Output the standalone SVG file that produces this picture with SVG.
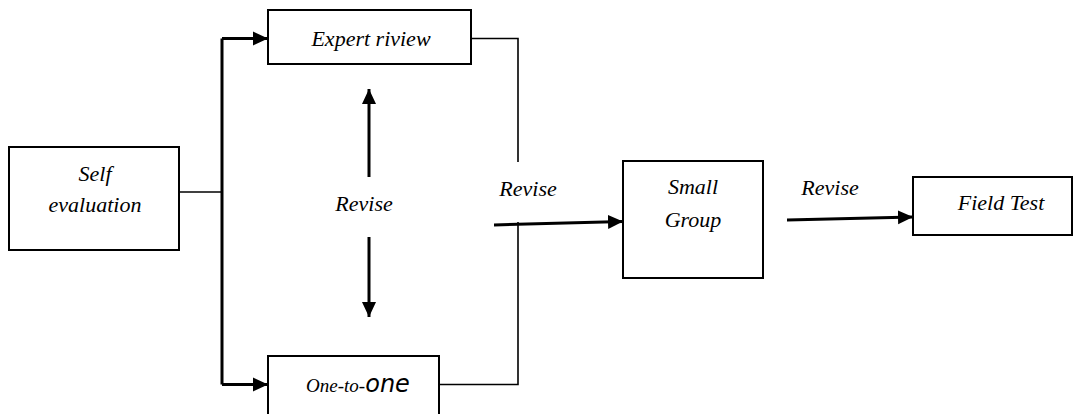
<svg xmlns="http://www.w3.org/2000/svg" width="1073" height="414" viewBox="0 0 1073 414">
<style>
.box{fill:#fff;stroke:#000;stroke-width:2}
.t{font-family:'Liberation Serif','Times New Roman',serif;font-style:italic;font-size:22px;fill:#000;text-anchor:middle}
.c{fill:none;stroke:#000}
.thick{stroke-width:3}
.thin{stroke-width:1.6}
</style>
<defs>
<marker id="ah" markerWidth="16" markerHeight="16" viewBox="0 0 16 16" refX="15" refY="8" orient="auto" markerUnits="userSpaceOnUse">
<path d="M0,1 L15,8 L0,15 Z" fill="#000"/>
</marker>
</defs>
<rect width="1073" height="414" fill="#fff"/>
<g id="connectors">
<path class="c thin" d="M179,192 H222"/>
<path class="c thick" d="M222,38.5 V384.5"/>
<path class="c thick" d="M222,38.5 H268" marker-end="url(#ah)"/>
<path class="c thick" d="M222,384.5 H268" marker-end="url(#ah)"/>
<path class="c thin" d="M471,38.5 H518 V162"/>
<path class="c thin" d="M518,222 V384.5 H439"/>
<path class="c thick" d="M494,225 L623,221.5" marker-end="url(#ah)"/>
<path class="c thick" d="M787,220 L913,217" marker-end="url(#ah)"/>
<path class="c thick" d="M369,177 V89" marker-end="url(#ah)"/>
<path class="c thick" d="M369,237 V317" marker-end="url(#ah)"/>
<text class="t" x="364" y="211">Revise</text>
<text class="t" x="528" y="196">Revise</text>
<text class="t" x="830" y="195">Revise</text>
</g>
<g id="self-evaluation">
<rect class="box" x="9" y="147" width="170" height="103"/>
<text class="t" x="95" y="181">Self</text>
<text class="t" x="95" y="212">evaluation</text>
</g>
<g id="expert-review">
<rect class="box" x="268" y="10" width="203" height="54"/>
<text class="t" x="371" y="46">Expert riview</text>
</g>
<g id="one-to-one">
<rect class="box" x="268" y="356" width="171" height="60"/>
<text class="t" x="358" y="392" style="font-size:19px">One-to-<tspan font-family="'DejaVu Sans',sans-serif" font-size="24">one</tspan></text>
</g>
<g id="small-group">
<rect class="box" x="623" y="161" width="140" height="117"/>
<text class="t" x="693" y="194">Small</text>
<text class="t" x="693" y="227">Group</text>
</g>
<g id="field-test">
<rect class="box" x="913" y="177" width="159" height="58"/>
<text class="t" x="1001" y="210">Field Test</text>
</g>
</svg>
